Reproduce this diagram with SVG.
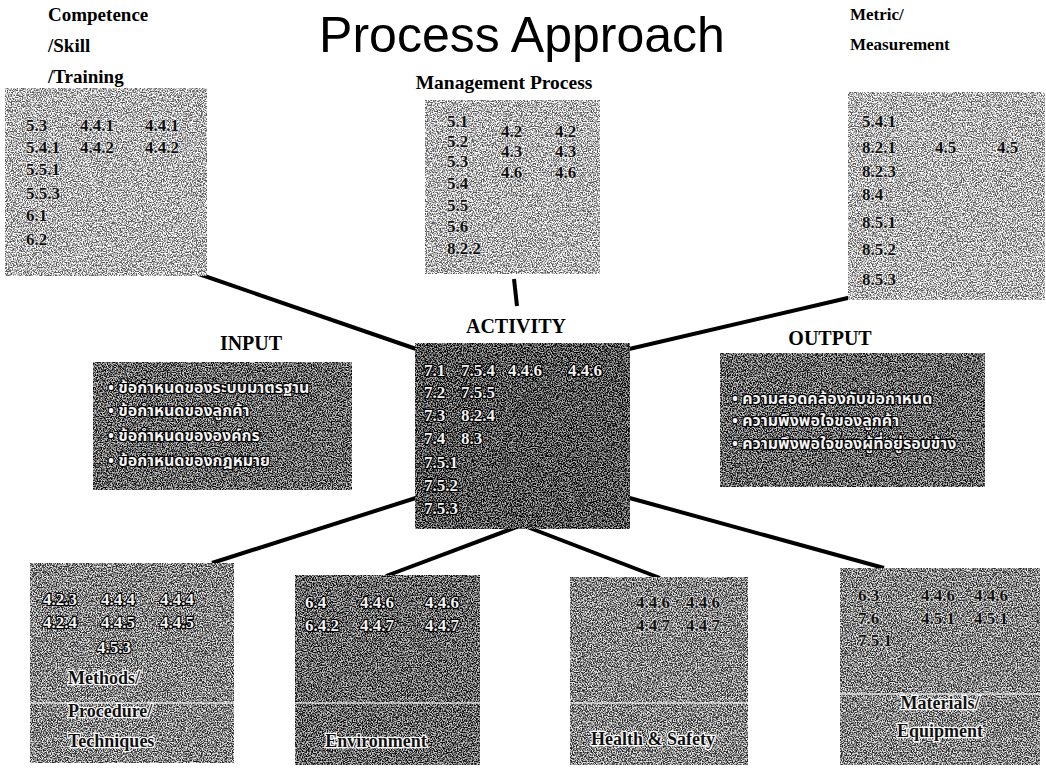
<svg xmlns="http://www.w3.org/2000/svg" width="1046" height="769" viewBox="0 0 1046 769">
  <defs>
    <!-- speckled halftone texture laid over each box fill -->
    <filter id="grain" x="0" y="0" width="100%" height="100%" color-interpolation-filters="sRGB">
      <feTurbulence type="fractalNoise" baseFrequency="0.8" numOctaves="2" seed="7" result="t"/>
      <feColorMatrix in="t" type="matrix" values="3.5 0 0 0 -1.25  3.5 0 0 0 -1.25  3.5 0 0 0 -1.25  0 0 0 0 1" result="g"/>
      <feComposite in="g" in2="SourceGraphic" operator="arithmetic" k1="0" k2="0.75" k3="1" k4="-0.37" result="m"/>
      <feComposite in="m" in2="SourceGraphic" operator="in"/>
    </filter>
    <style>
      .box { filter: url(#grain); }
      .light { fill: #b4b4b4; }
      .mid { fill: #848484; }
      .dark { fill: #666; }
      .darker { fill: #505050; }
      .title { font-family: "Liberation Sans", Arial, sans-serif; font-size: 50px; fill: #000; }
      .head { font-family: "Liberation Serif", "Times New Roman", serif; font-weight: bold; fill: #000; }
      .num { font-family: "Liberation Serif", "Times New Roman", serif; font-weight: bold; font-size: 17px; fill: #111; stroke: #fff; stroke-width: 1.6; stroke-opacity: 0.55; paint-order: stroke; }
      .numw { font-family: "Liberation Serif", "Times New Roman", serif; font-weight: bold; font-size: 17px; fill: #f2f2f2; stroke: #000; stroke-width: 2.4; paint-order: stroke; }
      .lbl { font-family: "Liberation Serif", "Times New Roman", serif; font-weight: bold; font-size: 18px; fill: #111; stroke: #fff; stroke-width: 2.4; paint-order: stroke; }
      .thai { font-family: "Noto Sans Thai", "Noto Sans", "DejaVu Sans", sans-serif; font-weight: bold; font-size: 16px; fill: #f4f4f4; stroke: #000; stroke-width: 2.4; paint-order: stroke; }
      .seam { stroke: #f4f4f4; stroke-width: 1.5; opacity: 0.8; }
      .link { stroke: #000; stroke-width: 4; fill: none; stroke-linecap: butt; }
    </style>
  </defs>

  <rect width="1046" height="769" fill="#fff"/>

  <text class="title" x="522" y="52" text-anchor="middle">Process Approach</text>

  <!-- connectors between the activity box and the surrounding boxes -->
  <g id="connectors">
    <line class="link" x1="190" y1="271" x2="422" y2="351"/>
    <line class="link" x1="514" y1="279" x2="517" y2="306"/>
    <line class="link" x1="852" y1="297" x2="612" y2="353"/>
    <line class="link" x1="422" y1="496" x2="212" y2="563"/>
    <line class="link" x1="522" y1="525" x2="386" y2="576"/>
    <line class="link" x1="522" y1="525" x2="660" y2="578"/>
    <line class="link" x1="626" y1="497" x2="884" y2="568"/>
  </g>

  <!-- Competence / Skill / Training -->
  <g id="competence">
    <text class="head" font-size="19" x="48" y="21">Competence</text>
    <text class="head" font-size="19" x="48" y="52">/Skill</text>
    <text class="head" font-size="19" x="48" y="83">/Training</text>
    <rect class="box light" x="5" y="88" width="202" height="188"/>
    <text class="num" x="26" y="131">5.3</text>
    <text class="num" x="80" y="131">4.4.1</text>
    <text class="num" x="145" y="131">4.4.1</text>
    <text class="num" x="26" y="153">5.4.1</text>
    <text class="num" x="80" y="153">4.4.2</text>
    <text class="num" x="145" y="153">4.4.2</text>
    <text class="num" x="26" y="175">5.5.1</text>
    <text class="num" x="26" y="199">5.5.3</text>
    <text class="num" x="26" y="221">6.1</text>
    <text class="num" x="26" y="245">6.2</text>
  </g>

  <!-- Management Process -->
  <g id="management">
    <text class="head" font-size="19.5" x="504" y="89" text-anchor="middle">Management Process</text>
    <rect class="box light" x="425" y="100" width="175" height="174"/>
    <text class="num" x="447" y="127">5.1</text>
    <text class="num" x="447" y="147">5.2</text>
    <text class="num" x="447" y="167">5.3</text>
    <text class="num" x="447" y="189">5.4</text>
    <text class="num" x="447" y="211">5.5</text>
    <text class="num" x="447" y="232">5.6</text>
    <text class="num" x="447" y="254">8.2.2</text>
    <text class="num" x="501" y="137">4.2</text>
    <text class="num" x="501" y="157">4.3</text>
    <text class="num" x="501" y="178">4.6</text>
    <text class="num" x="555" y="137">4.2</text>
    <text class="num" x="555" y="157">4.3</text>
    <text class="num" x="555" y="178">4.6</text>
  </g>

  <!-- Metric / Measurement -->
  <g id="metric">
    <text class="head" font-size="17" x="850" y="20">Metric/</text>
    <text class="head" font-size="17" x="850" y="50">Measurement</text>
    <rect class="box light" x="848" y="92" width="197" height="208"/>
    <text class="num" x="862" y="127">5.4.1</text>
    <text class="num" x="862" y="153">8.2.1</text>
    <text class="num" x="935" y="153">4.5</text>
    <text class="num" x="997" y="153">4.5</text>
    <text class="num" x="862" y="177">8.2.3</text>
    <text class="num" x="862" y="200">8.4</text>
    <text class="num" x="862" y="228">8.5.1</text>
    <text class="num" x="862" y="255">8.5.2</text>
    <text class="num" x="862" y="285">8.5.3</text>
  </g>

  <!-- INPUT -->
  <g id="input">
    <text class="head" font-size="20" x="251" y="350" text-anchor="middle">INPUT</text>
    <rect class="box dark" x="93" y="362" width="259" height="128"/>
    <text class="thai" x="108" y="393">• ข้อกำหนดของระบบมาตรฐาน</text>
    <text class="thai" x="108" y="416">• ข้อกำหนดของลูกค้า</text>
    <text class="thai" x="108" y="441">• ข้อกำหนดขององค์กร</text>
    <text class="thai" x="108" y="466">• ข้อกำหนดของกฎหมาย</text>
  </g>

  <!-- ACTIVITY -->
  <g id="activity">
    <text class="head" font-size="20" x="516" y="333" text-anchor="middle">ACTIVITY</text>
    <rect class="box darker" x="415" y="343" width="215" height="186"/>
    <text class="numw" x="424" y="376">7.1</text>
    <text class="numw" x="424" y="398">7.2</text>
    <text class="numw" x="424" y="421">7.3</text>
    <text class="numw" x="424" y="444">7.4</text>
    <text class="numw" x="424" y="468">7.5.1</text>
    <text class="numw" x="424" y="491">7.5.2</text>
    <text class="numw" x="424" y="514">7.5.3</text>
    <text class="numw" x="461" y="376">7.5.4</text>
    <text class="numw" x="461" y="398">7.5.5</text>
    <text class="numw" x="461" y="421">8.2.4</text>
    <text class="numw" x="461" y="444">8.3</text>
    <text class="numw" x="508" y="376">4.4.6</text>
    <text class="numw" x="568" y="376">4.4.6</text>
  </g>

  <!-- OUTPUT -->
  <g id="output">
    <text class="head" font-size="20" x="830" y="345" text-anchor="middle">OUTPUT</text>
    <rect class="box dark" x="720" y="353" width="265" height="134"/>
    <text class="thai" x="732" y="404">• ความสอดคล้องกับข้อกำหนด</text>
    <text class="thai" x="732" y="426">• ความพึงพอใจของลูกค้า</text>
    <text class="thai" x="732" y="449">• ความพึงพอใจของผู้ที่อยู่รอบข้าง</text>
  </g>

  <!-- Methods / Procedure / Techniques -->
  <g id="methods">
    <rect class="box mid" x="30" y="563" width="204" height="200"/>
    <line class="seam" x1="30" y1="703" x2="234" y2="703"/>
    <text class="numw" x="43" y="605">4.2.3</text>
    <text class="numw" x="101" y="605">4.4.4</text>
    <text class="numw" x="160" y="605">4.4.4</text>
    <text class="numw" x="43" y="628">4.2.4</text>
    <text class="numw" x="101" y="628">4.4.5</text>
    <text class="numw" x="160" y="628">4.4.5</text>
    <text class="numw" x="97" y="653">4.5.3</text>
    <text class="lbl" x="68" y="684">Methods/</text>
    <text class="lbl" x="68" y="717">Procedure/</text>
    <text class="lbl" x="68" y="747">Techniques</text>
  </g>

  <!-- Environment -->
  <g id="environment">
    <rect class="box dark" x="295" y="575" width="185" height="190"/>
    <line class="seam" x1="295" y1="703" x2="480" y2="703"/>
    <text class="numw" x="305" y="608">6.4</text>
    <text class="numw" x="360" y="608">4.4.6</text>
    <text class="numw" x="425" y="608">4.4.6</text>
    <text class="numw" x="305" y="631">6.4.2</text>
    <text class="numw" x="360" y="631">4.4.7</text>
    <text class="numw" x="425" y="631">4.4.7</text>
    <text class="lbl" font-size="16.5" x="376" y="747" text-anchor="middle">Environment</text>
  </g>

  <!-- Health & Safety -->
  <g id="health-safety">
    <rect class="box mid" x="570" y="577" width="178" height="188"/>
    <line class="seam" x1="570" y1="703" x2="748" y2="703"/>
    <text class="num" x="636" y="608">4.4.6</text>
    <text class="num" x="686" y="608">4.4.6</text>
    <text class="num" x="636" y="631">4.4.7</text>
    <text class="num" x="686" y="631">4.4.7</text>
    <text class="lbl" font-size="16.5" x="653" y="745" text-anchor="middle">Health &amp; Safety</text>
  </g>

  <!-- Materials / Equipment -->
  <g id="materials">
    <rect class="box mid" x="840" y="568" width="200" height="197"/>
    <line class="seam" x1="840" y1="694" x2="1040" y2="694"/>
    <text class="num" x="858" y="601">6.3</text>
    <text class="num" x="921" y="601">4.4.6</text>
    <text class="num" x="974" y="601">4.4.6</text>
    <text class="num" x="858" y="624">7.6</text>
    <text class="num" x="921" y="624">4.5.1</text>
    <text class="num" x="974" y="624">4.5.1</text>
    <text class="num" x="858" y="646">7.5.1</text>
    <text class="lbl" font-size="20" x="940" y="709" text-anchor="middle">Materials/</text>
    <text class="lbl" font-size="20" x="940" y="737" text-anchor="middle">Equipment</text>
  </g>
</svg>
